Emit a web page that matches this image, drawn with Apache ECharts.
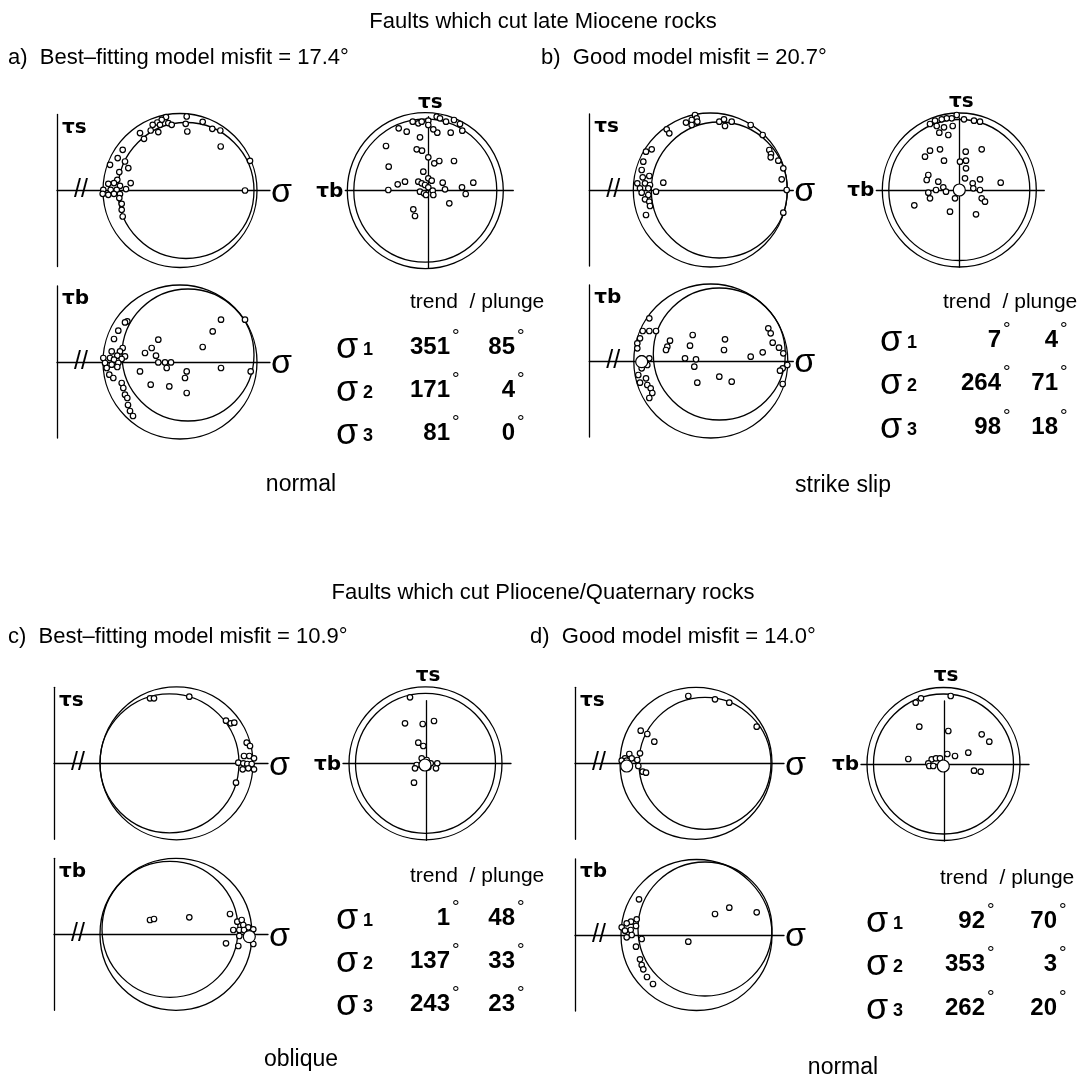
<!DOCTYPE html>
<html><head><meta charset="utf-8">
<script src="https://cdn.jsdelivr.net/npm/echarts@6/dist/echarts.min.js"></script>
<style>html,body{margin:0;padding:0;background:#fff}#c{width:1088px;height:1091px}</style>
</head><body><div id="c"></div>
<script>
// ---- fault data: normal stress (σ) and shear components (τs, τb), drawing units ----
// a) late Miocene, best-fitting model
const aTauS = [[109,73.4],[104.7,70.7],[100.3,68],[95.7,65.7],[103,65.7],[111.3,67.4],[114.7,65.7],[129.7,74],[128.7,66.7],[130.3,59],[101.3,58.4],[93.7,60],[83,57.4],[87,51.7],[145.7,68.7],[155.3,61.7],[163.3,60],[163.7,44],[193,29.7],[188,0],[65.7,40.7],[60.7,32.4],[53,25.7],[68,29],[71.3,22.4],[62.3,18.4],[60.3,10.7],[51.3,6.7],[57,7.4],[63,4.7],[73.7,7.4],[69,1.4],[46.3,0.7],[53.7,0.7],[59.7,0.7],[45.7,-3.3],[51.3,-4.3],[57,-3.3],[63,-3.6],[62.3,-7.6],[64.7,-13.3],[64.7,-19.3],[65.7,-26]];
const aTauB = [[70.3,40.6],[68,39.6],[61.3,31.3],[57,23],[65.7,14],[63,10.6],[54.7,10.6],[68,5.6],[60.3,6.3],[46.3,4],[53,4],[57,2.3],[64.7,3],[61.3,-1],[48,-1],[54.7,-2.7],[49.7,-6],[60.3,-5],[52.3,-12.7],[56.3,-16],[64.7,-21],[66.3,-26],[68,-32.7],[70.3,-36],[71,-43],[73,-49],[76,-54],[101.3,22.3],[94.7,14],[88,9],[99,6.3],[101.3,-0.4],[108,-0.4],[114,-0.4],[109.7,-6],[83,-9.4],[93.7,-22.7],[112.3,-24.4],[129.7,-9.4],[128,-16],[129.7,-31],[145.7,15],[155.7,30.6],[164,42.3],[188,42.3],[164,-6],[193.7,-9.4]];
const aNet = [[-15.6,69],[-10,67.4],[-6.6,69],[0,70],[0,65.7],[8.4,74],[11.7,72.4],[17.7,69],[25.7,70.7],[31.7,66.7],[34,60],[22.4,58],[9,58],[5,61.4],[-21.6,59],[-29.6,62.4],[-42.3,44.7],[-8.3,53.4],[-11.6,41.4],[-6.3,40],[0,33.4],[6,27.4],[11,29.7],[25.7,29.7],[-39.6,24],[-5,19],[0,12.4],[3.4,10],[-10,9],[-6.6,7.4],[-3.3,5.7],[-23.3,9],[-30.6,6.4],[-40,0.7],[14.4,8],[16.7,1.4],[33.7,3.4],[37.4,-3.3],[45,8],[21,-12.6],[-8.3,-1],[-4.3,-2.6],[0,3.4],[4.4,0],[5,-4.3],[-2.3,-4.3],[-15,-18.6],[-13.3,-25.3]];
// b) late Miocene, good model
const bTauS = [[105.7,75],[107.4,71.7],[102.4,70],[96.7,67.4],[102.4,65],[108,68.3],[130,68.3],[134.7,70.7],[142.4,68.3],[135.7,64],[161.4,65],[173.4,55],[77.4,60.7],[80,56.7],[62.4,40.7],[56.7,38.3],[54,28.3],[52.4,20],[180,40],[181.7,36],[181.4,32.7],[189,29.3],[194,21.7],[192.4,10.7],[197.4,0],[194,-22.7],[74,7.3],[53.4,12.7],[60,14],[48,6.7],[55.7,6.7],[60.7,5],[50.7,1.7],[59,1.7],[66.7,-1.7],[52.4,-2.7],[59,-5],[55.7,-9.3],[60,-11.7],[60.7,-16],[56.7,-25]];
const bTauB = [[60,42.7],[53.4,30],[60,30],[66.7,30],[50.7,22.7],[48,17.7],[48,12.7],[52.4,2.7],[60,2.7],[50.7,-2.3],[58,-4],[52.4,-7.3],[49,-14],[56.7,-17.3],[50.7,-21.7],[58,-24],[61.4,-27.3],[63,-32],[60,-37],[80.7,20.3],[78,14.3],[76.7,11],[103.4,26],[100.7,15.3],[95.7,2.7],[106.7,1.7],[105,-5.7],[135.7,21.7],[134.7,11],[161.4,4.3],[173.4,8.7],[179,32.7],[181.4,27.7],[183.4,18.3],[189.7,13.3],[194,7.7],[198,-4],[193.4,-7.3],[190.7,-9.7],[193.4,-23],[130,-15.7],[142.4,-20.7],[108,-21.7]];
const bNet = [[-2.6,75],[-7.6,71.7],[-12.6,71.7],[-17.6,70.7],[-24.3,69.3],[-29.3,66],[-22.6,64],[-15.3,62.7],[-6.6,64],[-20,57.3],[-11,55],[4.7,70.7],[14.7,69.3],[20.7,68.3],[-29.3,39.3],[-34.3,33.3],[-19.3,40.7],[-15.3,29.3],[0.7,28.3],[6.7,29.3],[6.7,21.7],[6.4,38.3],[22.4,40.7],[5.7,11.7],[-31,15],[-32.6,10],[-21,8.3],[-16,2.7],[-23.3,0],[-31,-2.7],[-29.3,-8.3],[-13.3,-1.7],[-4.3,-8.3],[13.4,6.7],[20.7,10.7],[20.7,0],[22.4,-8.3],[25.7,-11.7],[41.4,7.3],[-45,-15.3],[-9.3,-21.7],[16.7,-24.3],[14,1.7]];
// c) Pliocene/Quaternary, best-fitting model
const cTauS = [[96,65],[100,65],[135.3,66.6],[172,42.6],[176.7,40],[180.3,40.6],[192.7,20.6],[196,17.3],[190,7.3],[195.3,7.3],[200,5],[184.3,0.6],[189.3,0],[193.3,-0.7],[197.7,-0.7],[188.7,-6],[194.3,-5],[200,-6],[182,-19.4]];
const cTauB = [[96,14.3],[100,15.3],[135.3,17],[176,20.3],[183.3,12.6],[187.7,14.3],[189.3,9.3],[194.3,7],[199.3,5],[179.3,4.3],[185.3,4.3],[190,4.3],[185.3,-1.7],[192.7,-0.7],[197.7,0.3],[172,-9],[184.3,-11.7],[199.3,-9.7]];
const cNet = [[-16,66],[-21,40],[-3.3,39.3],[8,42.3],[-7.7,20.6],[-2.7,17.3],[-4.3,5],[0.7,3.3],[-9.3,-1.7],[-11,-5],[4.7,0],[11.3,0],[10,-5],[-2.7,-4],[2.3,-4],[-12,-19.4]];
// d) Pliocene/Quaternary, good model
const dTauS = [[113.3,67.3],[140,64],[154.3,60.6],[181.7,36.6],[65.7,32.6],[72.3,29.3],[79.3,21.6],[54.3,9.3],[65,10],[50,5],[56.7,5],[62.3,3.3],[46.7,2.6],[51.7,2.6],[63.3,-2.7],[67.7,-8.4],[71,-9.4]];
const dTauB = [[64,35.7],[140,21],[154.3,27.3],[181.7,22.7],[61.7,15.7],[56,13.3],[51.7,11.7],[61,9],[46.7,7.7],[55.7,5],[50,4.3],[56.7,0],[51.7,-2.3],[66.7,-4],[113.3,-6.7],[61,-11.7],[65,-24.3],[66.7,-30],[68.3,-34.3],[72,-42],[78,-49]];
const dNet = [[6.7,68],[-23,65.7],[-28.3,61.3],[-24.7,37.3],[4.3,33],[37.7,29.7],[45.3,22.3],[24.3,11.3],[11,8],[3.3,10],[-35.7,5],[-12.3,4.7],[-8,5.7],[-4,5.7],[-15.7,0.7],[-14.7,-2],[-10.7,-2],[30,-6.7],[36.7,-7.7]];

// projected model stress axis (large ring)
const bNetAxis = [[0,0]];
const bTauBAxis = [[52.4,-0.7]];
const cNetAxis = [[-1,-1.7]];
const cTauBAxis = [[195.3,-2.3]];
const dNetAxis = [[-0.7,-2]];
const dTauSAxis = [[51.7,-2.7]];

// Mohr circles [centre σ, centre τ, radius]
const aTauSCircles = [[123,0,77],[129,0,68]];
const aTauBCircles = [[123,0,77],[131,7,66]];
const bTauSCircles = [[121,0,77],[130,0,68]];
const bTauBCircles = [[121.5,0,77],[130,7,66]];
const cTauSCircles = [[122.5,0,76.5],[115.5,0,69.5]];
const cTauBCircles = [[122,0,76],[116,5,68]];
const dTauSCircles = [[121,0,76],[130,0,66]];
const dTauBCircles = [[121.5,0,75.5],[130,6,67]];
// unit-sphere projection rims [x, y, radius]
const aNetCircles = [[-3,0,78],[-3,0,71.5]];
const bNetCircles = [[0,0,77],[0,0,70.5]];
const cNetCircles = [[-0.5,0,76.5],[-0.5,0,70]];
const dNetCircles = [[-0.5,0,76.5],[-0.5,0,70]];

// principal stress orientations
const stressAxes = ['1','2','3'];
const aTrend = [351,171,81], aPlunge = [85,4,0];
const bTrend = [7,264,98],   bPlunge = [4,71,18];
const cTrend = [1,137,243],  cPlunge = [48,33,23];
const dTrend = [92,353,262], dPlunge = [70,3,20];

// text
const groupTitles = ['Faults which cut late Miocene rocks','Faults which cut Pliocene/Quaternary rocks'];
const panelTitles = ['a)  Best\u2013fitting model misfit = 17.4\u00b0','b)  Good model misfit = 20.7\u00b0','c)  Best\u2013fitting model misfit = 10.9\u00b0','d)  Good model misfit = 14.0\u00b0'];
const regimes = ['normal','strike slip','oblique','normal'];

// ---- layout (pixels) ----
const FONT = "'Liberation Sans', Arial, sans-serif";
const TAU_FONT = "600 20px 'DejaVu Sans', sans-serif";
const panels = [
  {top:{ox:57,oy:190.5,len:213}, bot:{ox:57,oy:362,len:213}, net:{cx:428.3,cy:190.7,yTop:74},
   tbl:{hx:410,hy:302,sx:336,tr:450,pr:515,rows:[347,390,433]}, title:{x:8,y:58}, regime:{x:301,y:485},
   d:{s:aTauS,b:aTauB,n:aNet,sc:aTauSCircles,bc:aTauBCircles,nc:aNetCircles,trend:aTrend,plunge:aPlunge}},
  {top:{ox:589.3,oy:190,len:204}, bot:{ox:589.3,oy:361,len:204}, net:{cx:959.3,cy:190,yTop:72},
   tbl:{hx:943,hy:302,sx:880,tr:1001,pr:1058,rows:[340,383,427]}, title:{x:541,y:58}, regime:{x:843,y:486},
   d:{s:bTauS,b:bTauB,n:bNet,sc:bTauSCircles,bc:bTauBCircles,nc:bNetCircles,trend:bTrend,plunge:bPlunge,nAx:bNetAxis,bAx:bTauBAxis}},
  {top:{ox:54,oy:763.3,len:214}, bot:{ox:54,oy:934.3,len:214}, net:{cx:426,cy:763.3,yTop:62.6},
   tbl:{hx:410,hy:876,sx:336,tr:450,pr:515,rows:[918,961,1004]}, title:{x:8,y:637}, regime:{x:301,y:1060},
   d:{s:cTauS,b:cTauB,n:cNet,sc:cTauSCircles,bc:cTauBCircles,nc:cNetCircles,trend:cTrend,plunge:cPlunge,nAx:cNetAxis,bAx:cTauBAxis}},
  {top:{ox:575,oy:763.3,len:209}, bot:{ox:575,oy:935,len:209}, net:{cx:944,cy:764,yTop:63},
   tbl:{hx:940,hy:878,sx:866,tr:985,pr:1057,rows:[921,964,1008]}, title:{x:530,y:637}, regime:{x:843,y:1068},
   d:{s:dTauS,b:dTauB,n:dNet,sc:dTauSCircles,bc:dTauBCircles,nc:dNetCircles,trend:dTrend,plunge:dPlunge,nAx:dNetAxis,sAx:dTauSAxis}}
];

const grid = [], xAxis = [], yAxis = [], series = [], graphic = [];
const LINE = {color:'#000', width:1.3};

function addAxes(rect, xr, yr) {
  const i = grid.length;
  grid.push(rect);
  xAxis.push({type:'value', gridIndex:i, min:xr[0], max:xr[1], axisLine:{show:true, onZero:true, lineStyle:LINE}, axisTick:{show:false}, axisLabel:{show:false}, splitLine:{show:false}});
  yAxis.push({type:'value', gridIndex:i, min:yr[0], max:yr[1], axisLine:{show:true, onZero:true, lineStyle:LINE}, axisTick:{show:false}, axisLabel:{show:false}, splitLine:{show:false}});
  return i;
}
function circleSeries(i, data) {
  series.push({type:'custom', xAxisIndex:i, yAxisIndex:i, silent:true, clip:false, data,
    renderItem(p, api) {
      const c = api.coord([api.value(0), api.value(1)]);
      const r = api.size([api.value(2), 0])[0];
      return {type:'circle', shape:{cx:c[0], cy:c[1], r}, style:{fill:'none', stroke:'#000', lineWidth:1.3}};
    }});
}
function pointSeries(i, data, size) {
  series.push({type:'scatter', xAxisIndex:i, yAxisIndex:i, silent:true, clip:false, data, symbol:'circle', symbolSize:size,
    itemStyle:{color:'#fff', borderColor:'#000', borderWidth:1.2, opacity:1}});
}
function text(x, y, t, font, align, extra) {
  graphic.push(Object.assign({type:'text', x, y, silent:true, style:{text:t, font, fill:'#000', textAlign:align||'left', textVerticalAlign:'middle', align:align||'left', verticalAlign:'middle'}}, extra||{}));
}
function mohr(g, pts, circles, tau, ax) {
  const i = addAxes({left:g.ox, top:g.oy-76, width:g.len, height:152}, [0,g.len], [-76,76]);
  circleSeries(i, circles);
  pointSeries(i, pts, 5.5);
  if (ax) pointSeries(i, ax, 12);
  text(g.ox+5, g.oy-63, tau, TAU_FONT);
  text(g.ox+g.len+1, g.oy+2, '\u03c3', "34px " + FONT);
  text(g.ox+24, g.oy, '//', "25px " + FONT, 'center');
}
function net(g, pts, circles, ax) {
  const i = addAxes({left:g.cx-83, top:g.cy-g.yTop, width:168, height:g.yTop+77}, [-83,85], [-77,g.yTop]);
  circleSeries(i, circles);
  pointSeries(i, pts, 5.5);
  if (ax) pointSeries(i, ax, 12);
  text(g.cx+2, g.cy-88, '\u03c4s', TAU_FONT, 'center');
  text(g.cx-85, g.cy+1, '\u03c4b', TAU_FONT, 'right');
}
function table(t, trend, plunge) {
  text(t.hx, t.hy, 'trend  / plunge', "21px " + FONT);
  t.rows.forEach((y, k) => {
    text(t.sx, y+1, '\u03c3', "36px " + FONT);
    text(t.sx+27, y+3, stressAxes[k], "bold 18px " + FONT);
    text(t.tr, y, String(trend[k]), "bold 24px " + FONT, 'right');
    text(t.tr+2, y-10, '\u00b0', "19px " + FONT);
    text(t.pr, y, String(plunge[k]), "bold 24px " + FONT, 'right');
    text(t.pr+2, y-10, '\u00b0', "19px " + FONT);
  });
}

panels.forEach((p, k) => {
  mohr(p.top, p.d.s, p.d.sc, '\u03c4s', p.d.sAx);
  mohr(p.bot, p.d.b, p.d.bc, '\u03c4b', p.d.bAx);
  net(p.net, p.d.n, p.d.nc, p.d.nAx);
  table(p.tbl, p.d.trend, p.d.plunge);
  text(p.title.x, p.title.y, panelTitles[k], "22px " + FONT);
  text(p.regime.x, p.regime.y, regimes[k], "23px " + FONT, 'center');
});
text(543, 22, groupTitles[0], "22px " + FONT, 'center');
text(543, 593, groupTitles[1], "22px " + FONT, 'center');

const chart = echarts.init(document.getElementById('c'), null, {renderer:'canvas'});
chart.setOption({animation:false, backgroundColor:'#fff', grid, xAxis, yAxis, series, graphic:{elements:graphic}});
</script></body></html>
